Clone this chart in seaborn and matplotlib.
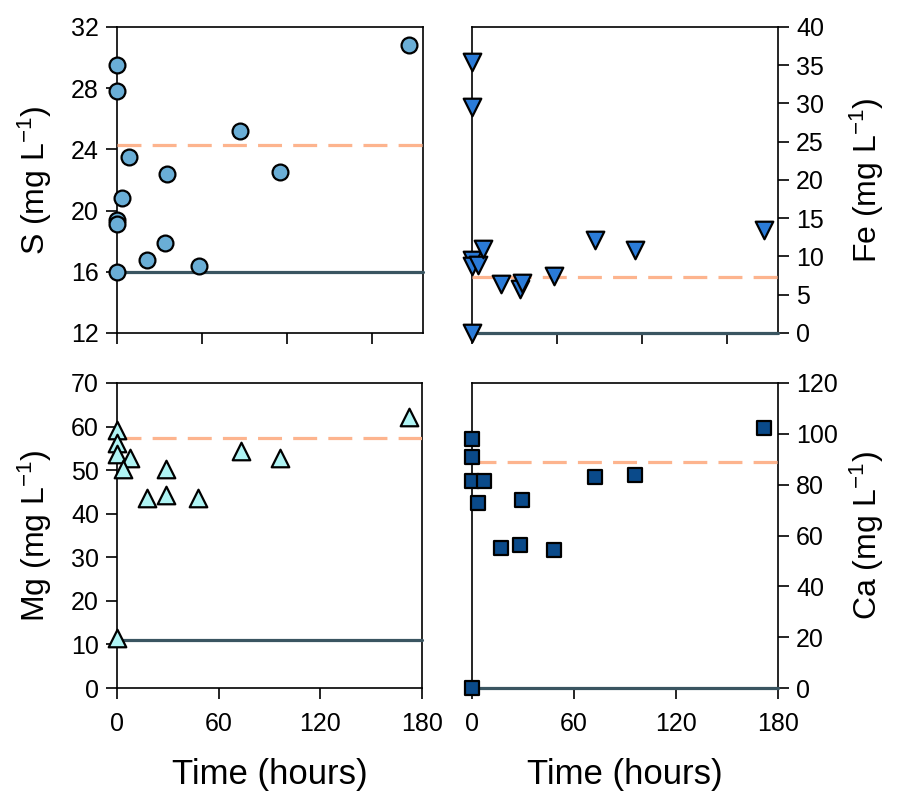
import matplotlib
matplotlib.use("Agg")
import matplotlib.pyplot as plt
import pandas as pd
import seaborn as sns

# Sampling times (hours) and dissolved concentrations (mg L-1)
s_time = [0, 0, 0, 0, 0, 3, 7, 17.5, 28.5, 29.5, 48, 72.5, 96, 172]
s_conc = [29.5, 27.8, 19.4, 19.1, 16.0, 20.8, 23.5, 16.8, 17.9, 22.4, 16.4, 25.2, 22.5, 30.8]

fe_time = [0, 0, 0, 0, 3.5, 6.5, 17.3, 28.2, 29.6, 48, 72.5, 96, 172, 0]
fe_conc = [35.4, 29.6, 9.6, 8.7, 8.9, 11.0, 6.4, 5.7, 6.5, 7.4, 12.2, 10.9, 13.5, 0.0]

mg_time = [0, 0, 0, 7.5, 3.5, 29, 17.9, 28.7, 48, 73, 96, 172.5, 0]
mg_conc = [59.2, 56.3, 53.8, 52.9, 50.2, 50.2, 43.7, 44.3, 43.7, 54.4, 52.7, 62.2, 11.5]

ca_time = [0, 0, 0, 7, 3.5, 29.4, 17.3, 28, 48, 72.5, 96, 172, 0]
ca_conc = [98.0, 90.9, 81.3, 81.3, 72.8, 74.1, 55.1, 56.4, 54.4, 82.9, 83.9, 102.3, 0.0]

# Reference levels: initial (solid) and target (dashed)
s_levels = (16.0, 24.3)
fe_levels = (0.0, 7.3)
mg_levels = (11.1, 57.3)
ca_levels = (0.0, 88.8)

sns.set_theme(style="ticks")
plt.rcParams["font.family"] = ["Liberation Sans", "DejaVu Sans"]
plt.rcParams["mathtext.fontset"] = "custom"
plt.rcParams["mathtext.rm"] = "Liberation Sans"
plt.rcParams["mathtext.it"] = "Liberation Sans:italic"
plt.rcParams["mathtext.default"] = "regular"
plt.rcParams["text.color"] = "black"
plt.rcParams["axes.labelcolor"] = "black"

fig = plt.figure(figsize=(9.01, 7.91), dpi=100)
W, H = 901, 791


def make_axes(x0, y0, x1, y1):
    return fig.add_axes([x0 / W, 1 - y1 / H, (x1 - x0) / W, (y1 - y0) / H])


panels = [
    dict(pos=(117, 27, 423, 333), t=s_time, c=s_conc, lv=s_levels, ylim=(12, 32),
         yticks=range(12, 33, 4), marker="o", color="#6aaed6", s=130,
         label="S (mg L$^{-1}$)", side="left", top=True),
    dict(pos=(472, 27, 778, 333), t=fe_time, c=fe_conc, lv=fe_levels, ylim=(0, 40),
         yticks=range(0, 41, 5), marker="v", color="#2a7bd8", s=160,
         label="Fe (mg L$^{-1}$)", side="right", top=True),
    dict(pos=(117, 383, 422, 688), t=mg_time, c=mg_conc, lv=mg_levels, ylim=(0, 70),
         yticks=range(0, 71, 10), marker="^", color="#aff4f4", s=160,
         label="Mg (mg L$^{-1}$)", side="left", top=False),
    dict(pos=(472, 383, 778, 688), t=ca_time, c=ca_conc, lv=ca_levels, ylim=(0, 120),
         yticks=range(0, 121, 20), marker="s", color="#0a4a8a", s=115,
         label="Ca (mg L$^{-1}$)", side="right", top=False),
]

for p in panels:
    ax = make_axes(*p["pos"])
    x0, y0, x1, y1 = p["pos"]
    aw, ah = x1 - x0, y1 - y0
    df = pd.DataFrame({"time": p["t"], "conc": p["c"]})
    base, target = p["lv"]
    ax.axhline(base, color="#3a5561", lw=2.3, zorder=3, clip_on=False)
    ax.axhline(target, color="#fdb48e", lw=2.3, dashes=(7.5, 3.5), zorder=3)
    sns.scatterplot(data=df, x="time", y="conc", ax=ax, marker=p["marker"],
                    color=p["color"], s=p["s"], edgecolor="black", linewidth=1.6,
                    zorder=5, clip_on=False, legend=False)
    ax.set_xlim(0, 180)
    ax.set_ylim(*p["ylim"])
    ax.set_yticks(list(p["yticks"]))
    for sp in ax.spines.values():
        sp.set_visible(True)
        sp.set_linewidth(1.2)
        sp.set_color("black")
    ax.tick_params(axis="both", direction="out", length=8, width=1.2,
                   labelsize=18, color="black", labelcolor="black", pad=5)
    ax.tick_params(axis="x", pad=9)
    if p["top"]:
        ax.set_xticks([0, 50, 100, 150])
        ax.set_xticklabels([])
        ax.set_xlabel("")
    else:
        ax.set_xticks([0, 60, 120, 180])
        ax.set_xlabel("Time (hours)", fontsize=25)
        ax.xaxis.set_label_coords(0.5, -(758 - y1) / ah)
    if p["side"] == "right":
        ax.yaxis.tick_right()
        ax.yaxis.set_label_position("right")
        ax.set_ylabel(p["label"], fontsize=23, rotation=90)
        ax.yaxis.set_label_coords((848 - x0) / aw, 0.5)
    else:
        ax.set_ylabel(p["label"], fontsize=23)
        ax.yaxis.set_label_coords((54 - x0) / aw, 0.5)
    ax.grid(False)

fig.savefig("out.png", dpi=100)
